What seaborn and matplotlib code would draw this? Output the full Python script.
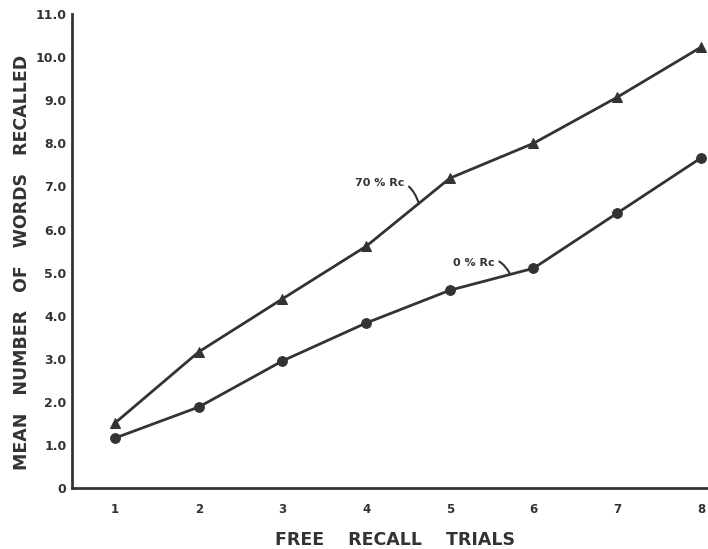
import matplotlib
matplotlib.use("Agg")
import matplotlib.pyplot as plt
import seaborn as sns
import pandas as pd

# Values
trials = [1, 2, 3, 4, 5, 6, 7, 8]
recall_70 = [1.51, 3.16, 4.39, 5.61, 7.19, 8.00, 9.07, 10.23]
recall_0 = [1.16, 1.88, 2.95, 3.83, 4.59, 5.10, 6.38, 7.66]
groups = ["70 % Rc", "0 % Rc"]
y_ticks = [0, 1, 2, 3, 4, 5, 6, 7, 8, 9, 10, 11]

df = pd.DataFrame({
    "trial": trials * 2,
    "recall": recall_70 + recall_0,
    "group": [groups[0]] * len(trials) + [groups[1]] * len(trials),
})

sns.set_style("white")
plt.rcParams["font.family"] = ["DejaVu Sans"]
ink = "#333333"

fig = plt.figure(figsize=(7.08, 5.49), dpi=100)
ax = fig.add_axes([0.1017, 0.111, 0.8983, 0.8634])

sns.lineplot(data=df, x="trial", y="recall", style="group",
             markers={groups[0]: "^", groups[1]: "o"}, dashes=False,
             color=ink, linewidth=2, markersize=7, markeredgecolor=ink,
             legend=False, ax=ax, clip_on=False)

ax.set_xlim(0.486, 8.085)
ax.set_ylim(0, 11)
ax.set_xticks(trials)
ax.set_xticklabels([str(t) for t in trials], fontsize=8.5, fontweight="bold", color=ink)
ax.set_yticks(y_ticks)
ax.set_yticklabels(["0"] + [f"{v:.1f}" for v in y_ticks[1:]],
                   fontsize=9, fontweight="bold", color=ink)
ax.tick_params(axis="both", direction="in", length=5, width=1.5, colors=ink)
ax.tick_params(axis="x", pad=11)
ax.tick_params(axis="y", pad=4)
for side in ["top", "right"]:
    ax.spines[side].set_visible(False)
for side in ["left", "bottom"]:
    ax.spines[side].set_color(ink)
    ax.spines[side].set_linewidth(2)

ax.set_xlabel("FREE    RECALL    TRIALS", fontsize=12.5, fontweight="bold",
              color=ink, va="center")
ax.xaxis.set_label_coords(0.508, -0.11)
ax.set_ylabel("MEAN   NUMBER   OF   WORDS   RECALLED", fontsize=12.5,
              fontweight="bold", color=ink, va="center")
ax.yaxis.set_label_coords(-0.079, 0.477)

# curled pointer labels
ax.annotate(groups[0], xy=(4.63, 6.6), xytext=(3.87, 7.08), fontsize=8,
            fontweight="bold", color=ink, va="center",
            arrowprops=dict(arrowstyle="-", color=ink, lw=1.5, shrinkA=1,
                            shrinkB=0, connectionstyle="arc3,rad=-0.5"))
ax.annotate(groups[1], xy=(5.72, 4.97), xytext=(5.04, 5.22), fontsize=8,
            fontweight="bold", color=ink, va="center",
            arrowprops=dict(arrowstyle="-", color=ink, lw=1.5, shrinkA=1,
                            shrinkB=0, connectionstyle="arc3,rad=-0.5"))

fig.savefig("out.png", dpi=100)
